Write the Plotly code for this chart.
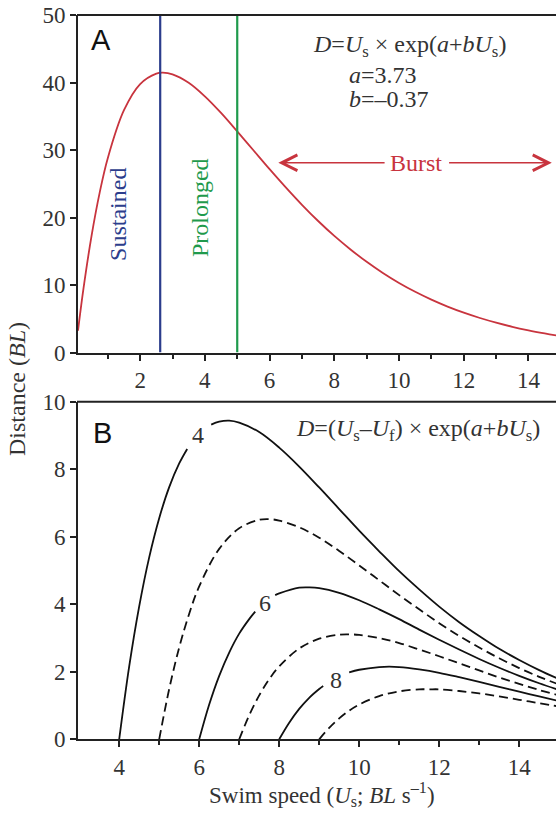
import plotly.graph_objects as go

# ---------------- data ----------------
# Panel A: distance vs swim speed
a_speed = [0.08, 0.25, 0.5, 0.75, 1.0, 1.5, 2.0, 2.5, 2.7, 3.0, 3.5, 4.0, 4.5, 5.0, 5.5, 6.0,
           6.5, 7.0, 7.5, 8.0, 8.5, 9.0, 9.5, 10.0, 10.5, 11.0, 11.5, 12.0, 12.5, 13.0,
           13.5, 14.0, 14.5, 14.85]
a_dist = [3.24, 9.50, 17.32, 23.69, 28.79, 35.89, 39.77, 41.32, 41.45, 41.21, 39.96, 37.95,
          35.49, 32.76, 29.96, 27.16, 24.46, 21.88, 19.48, 17.27, 15.27, 13.43, 11.78, 10.30,
          8.99, 7.83, 6.80, 5.90, 5.11, 4.42, 3.81, 3.29, 2.83, 2.53]
sustained_limit = 2.62
prolonged_limit = 5.0
formula_a = "<i>D</i>=<i>U</i><sub>s</sub> × exp(<i>a</i>+<i>bU</i><sub>s</sub>)"
param_a = "<i>a</i>=3.73"
param_b = "<i>b</i>=–0.37"

# Panel B: distance for flow speeds Uf = 4..9 (None = gap for label)
uf4_x = [4.0, 4.25, 4.5, 4.75, 5.0, 5.25, 5.5, 5.7, None, 6.3, 6.5, 6.75, 7.0, 7.5, 8.0, 8.5,
         9.0, 9.5, 10.0, 10.5, 11.0, 11.5, 12.0, 12.5, 13.0, 13.5, 14.0, 14.5, 15.0]
uf4_y = [0.0, 2.16, 3.94, 5.39, 6.55, 7.47, 8.17, 8.60, None, 9.32, 9.41, 9.44, 9.38, 9.10,
         8.64, 8.08, 7.46, 6.82, 6.18, 5.57, 4.98, 4.44, 3.93, 3.47, 3.06, 2.68, 2.35, 2.05, 1.78]
uf5_x = [5.0, 5.25, 5.5, 5.75, 6.0, 6.5, 7.0, 7.5, 7.75, 8.0, 8.5, 9.0, 9.5, 10.0, 10.5, 11.0,
         11.5, 12.0, 12.5, 13.0, 13.5, 14.0, 14.5, 15.0]
uf5_y = [0.0, 1.49, 2.72, 3.72, 4.53, 5.64, 6.25, 6.50, 6.52, 6.48, 6.28, 5.97, 5.58, 5.15,
         4.71, 4.27, 3.85, 3.44, 3.06, 2.72, 2.40, 2.11, 1.85, 1.62]
uf6_x = [6.0, 6.25, 6.5, 6.75, 7.0, 7.25, 7.4, None, 7.9, 8.0, 8.5, 8.75, 9.0, 9.5, 10.0, 10.5,
         11.0, 11.5, 12.0, 12.5, 13.0, 13.5, 14.0, 14.5, 15.0]
uf6_y = [0.0, 1.03, 1.88, 2.57, 3.13, 3.56, 3.78, None, 4.27, 4.32, 4.49, 4.50, 4.48, 4.34,
         4.12, 3.85, 3.56, 3.25, 2.95, 2.66, 2.38, 2.12, 1.88, 1.66, 1.46]
uf7_x = [7.0, 7.25, 7.5, 7.75, 8.0, 8.5, 9.0, 9.5, 9.75, 10.0, 10.5, 11.0, 11.5, 12.0, 12.5,
         13.0, 13.5, 14.0, 14.5, 15.0]
uf7_y = [0.0, 0.71, 1.30, 1.78, 2.16, 2.69, 2.98, 3.10, 3.11, 3.09, 3.00, 2.85, 2.66, 2.46,
         2.25, 2.04, 1.83, 1.64, 1.46, 1.30]
uf8_x = [8.0, 8.25, 8.5, 8.75, 9.0, 9.1, None, 9.75, 10.0, 10.5, 10.75, 11.0, 11.5, 12.0, 12.5,
         13.0, 13.5, 14.0, 14.5, 15.0]
uf8_y = [0.0, 0.49, 0.90, 1.23, 1.49, 1.58, None, 1.98, 2.06, 2.14, 2.15, 2.14, 2.07, 1.97,
         1.84, 1.70, 1.55, 1.41, 1.27, 1.13]
uf9_x = [9.0, 9.25, 9.5, 9.75, 10.0, 10.5, 11.0, 11.5, 11.75, 12.0, 12.5, 13.0, 13.5, 14.0,
         14.5, 15.0]
uf9_y = [0.0, 0.34, 0.62, 0.85, 1.03, 1.28, 1.42, 1.48, 1.48, 1.48, 1.43, 1.36, 1.27, 1.17,
         1.07, 0.97]
curve_labels = ["4", "6", "8"]
label_x = [5.97, 7.65, 9.42]
label_y = [9.0, 4.03, 1.76]
formula_b = ("<i>D</i>=(<i>U</i><sub>s</sub>–<i>U</i><sub>f</sub>) × "
             "exp(<i>a</i>+<i>bU</i><sub>s</sub>)")

# ---------------- styling ----------------
W, H = 556, 816
SERIF = "Liberation Serif"
SANS = "Liberation Sans"
RED = "#c8343e"
BLUE = "#2c3d8c"
GREEN = "#1f9a4c"
TXT = "#333333"
TXT_SIZE = 24
TICK_SIZE = 23


def px_x(p):
    return p / W


def px_y(p):
    return 1 - p / H


fig = go.Figure()

fig.add_trace(go.Scatter(x=a_speed, y=a_dist, mode="lines", line=dict(color=RED, width=1.8, shape="spline"),
                         xaxis="x", yaxis="y", showlegend=False, hoverinfo="skip"))
fig.add_trace(go.Scatter(x=[sustained_limit, sustained_limit], y=[0, 50], mode="lines",
                         line=dict(color=BLUE, width=2.2), xaxis="x", yaxis="y", showlegend=False))
fig.add_trace(go.Scatter(x=[prolonged_limit, prolonged_limit], y=[0, 50], mode="lines",
                         line=dict(color=GREEN, width=2.2), xaxis="x", yaxis="y", showlegend=False))

curves_b = [(uf4_x, uf4_y, "solid"), (uf5_x, uf5_y, "9px,5px"), (uf6_x, uf6_y, "solid"),
            (uf7_x, uf7_y, "9px,5px"), (uf8_x, uf8_y, "solid"), (uf9_x, uf9_y, "9px,5px")]
for cx, cy, dash in curves_b:
    fig.add_trace(go.Scatter(x=cx, y=cy, mode="lines", connectgaps=False,
                             line=dict(color="#111111", width=1.8, dash=dash, shape="spline"),
                             xaxis="x2", yaxis="y2", showlegend=False, hoverinfo="skip"))

axis_common = dict(showline=True, linecolor="#222222", linewidth=2, mirror=False,
                   ticks="outside", tickcolor="#222222", tickwidth=2, ticklen=6,
                   showgrid=False, zeroline=False, automargin=False,
                   tickfont=dict(family=SERIF, size=TICK_SIZE, color=TXT))

fig.update_layout(
    template="none",
    width=W, height=H, margin=dict(l=0, r=0, t=0, b=0, pad=0, autoexpand=False),
    paper_bgcolor="white", plot_bgcolor="white", showlegend=False,
    xaxis=dict(domain=[px_x(78), 1.0], range=[0.08, 14.85], anchor="y",
               tickvals=[2, 4, 6, 8, 10, 12, 14],
               minor=dict(tickvals=[1, 3, 5, 7, 9, 11, 13], ticks="outside", ticklen=4,
                          tickcolor="#222222", tickwidth=2),
               **axis_common),
    yaxis=dict(domain=[px_y(352.5), px_y(15)], range=[0, 50], anchor="x",
               tickvals=[0, 10, 20, 30, 40, 50], **axis_common),
    xaxis2=dict(domain=[px_x(78), 1.0], range=[2.97, 14.92], anchor="y2",
                tickvals=[4, 6, 8, 10, 12, 14],
                minor=dict(tickvals=[5, 7, 9, 11, 13], ticks="outside", ticklen=4,
                           tickcolor="#222222", tickwidth=2),
                **axis_common),
    yaxis2=dict(domain=[px_y(739.3), px_y(401.7)], range=[0, 10], anchor="x2",
                tickvals=[0, 2, 4, 6, 8, 10], **axis_common),
)

# top border lines of both panels
for yref in ("y domain", "y2 domain"):
    fig.add_shape(type="line", xref="paper", yref=yref, x0=px_x(77), x1=1.0, y0=1, y1=1,
                  line=dict(color="#222222", width=2))

ann = []


def paper_text(text, x, y, size, color=TXT, family=SERIF, xanchor="center", angle=0):
    ann.append(dict(text=text, x=px_x(x), y=px_y(y), xref="paper", yref="paper",
                    xanchor=xanchor, yanchor="middle", showarrow=False, textangle=angle,
                    font=dict(family=family, size=size, color=color)))


# panel letters
paper_text("A", 101, 40, 29, color="#111111", family=SANS)
paper_text("B", 102, 433, 29, color="#111111", family=SANS)
# formulas
paper_text(formula_a, 311, 46, 24, xanchor="left")
paper_text(param_a, 347, 75, 24, xanchor="left")
paper_text(param_b, 347, 99, 24, xanchor="left")
paper_text(formula_b, 294, 430, 24, xanchor="left")

# regime labels (data coordinates)
for text, lx, ly, col in [("Sustained", 1.32, 20.4, BLUE), ("Prolonged", 3.85, 21.4, GREEN)]:
    ann.append(dict(text=text, x=lx, y=ly, xref="x", yref="y", textangle=-90, showarrow=False,
                    xanchor="center", yanchor="middle",
                    font=dict(family=SERIF, size=TXT_SIZE, color=col)))
ann.append(dict(text="Burst", x=10.53, y=28.1, xref="x", yref="y", showarrow=False,
                xanchor="center", yanchor="middle",
                font=dict(family=SERIF, size=TXT_SIZE, color=RED)))
ann.append(dict(text="", x=6.27, y=28.1, ax=9.6, ay=28.1, xref="x", yref="y", axref="x", ayref="y",
                showarrow=True, arrowhead=5, arrowsize=2.2, arrowwidth=1.4, arrowcolor=RED))
ann.append(dict(text="", x=14.72, y=28.1, ax=11.5, ay=28.1, xref="x", yref="y", axref="x", ayref="y",
                showarrow=True, arrowhead=5, arrowsize=2.2, arrowwidth=1.4, arrowcolor=RED))
# curve labels panel B
for t, lx, ly in zip(curve_labels, label_x, label_y):
    ann.append(dict(text=t, x=lx, y=ly, xref="x2", yref="y2", showarrow=False,
                    xanchor="center", yanchor="middle",
                    font=dict(family=SERIF, size=TXT_SIZE, color=TXT)))
# axis titles
paper_text("Distance (<i>BL</i>)", 17, 389, TXT_SIZE, angle=-90)
paper_text("Swim speed (<i>U</i><sub>s</sub>; <i>BL</i> s<sup>–1</sup>)", 322, 794, 23)
fig.update_layout(annotations=ann)

fig.write_html("out.html")
